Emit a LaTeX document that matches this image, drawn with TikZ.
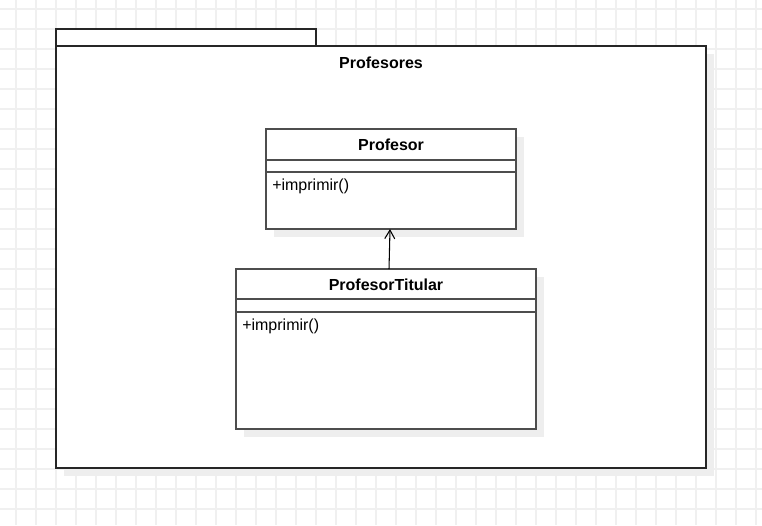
\documentclass[tikz,border=0pt]{standalone}
\usepackage{fontspec}
\setmainfont{Liberation Sans}
\usetikzlibrary{arrows.meta}
\definecolor{gridc}{HTML}{F0F0F0}
\definecolor{shadowc}{HTML}{EEEEEE}
\definecolor{boxc}{HTML}{4D4D4D}
\tikzset{
  gridline/.style={draw=gridc, line width=1.1pt},
  shadowbox/.style={fill=shadowc, draw=none},
  pkgline/.style={draw=black!85, line width=1pt, fill=white},
  classline/.style={draw=boxc, line width=1.1pt, fill=white},
  sepline/.style={draw=boxc, line width=0.9pt},
  title/.style={font=\fontsize{12pt}{14pt}\selectfont\bfseries, inner sep=0pt},
  member/.style={font=\fontsize{12pt}{14pt}\selectfont, inner sep=0pt, anchor=west},
  inherit/.style={draw=black, line width=0.8pt, -{Straight Barb[length=6.5pt,width=7.5pt]}}
}
\begin{document}
\begin{tikzpicture}[x=0.75pt,y=-0.75pt]
\useasboundingbox (0,0) rectangle (762,525);
\fill[white] (0,0) rectangle (762,525);
% grid
\foreach \gx in {16,36,...,756} \draw[gridline] (\gx,0) -- (\gx,525);
\foreach \gy in {9,29,...,509} \draw[gridline] (0,\gy) -- (762,\gy);
% package shadow
\path[shadowbox] (64,54) rectangle (714,476);
% package tab and body
\path[pkgline] (56,29) rectangle (316,46);
\path[pkgline] (56,46) rectangle (706,468);
\node[title] (pkg) at (381,63) {Profesores};
% class Profesor
\path[shadowbox] (274,137) rectangle (524,237);
\path[classline] (266,129) rectangle (516,229);
\coordinate (pBot) at (390,229);
\draw[sepline] (266,160) -- (516,160);
\draw[sepline] (266,172) -- (516,172);
\node[title] (ptitle) at (391,144.5) {Profesor};
\node[member] (pm) at (272,186.5) {+imprimir()};
% class ProfesorTitular
\path[shadowbox] (244,277) rectangle (544,437);
\path[classline] (236,269) rectangle (536,429);
\coordinate (tTop) at (389,269);
\draw[sepline] (236,299) -- (536,299);
\draw[sepline] (236,312) -- (536,312);
\node[title] (ttitle) at (386,284.5) {ProfesorTitular};
\node[member] (tm) at (242,326.5) {+imprimir()};
% inheritance connector
\draw[inherit] (tTop) -- (pBot);
\end{tikzpicture}
\end{document}
